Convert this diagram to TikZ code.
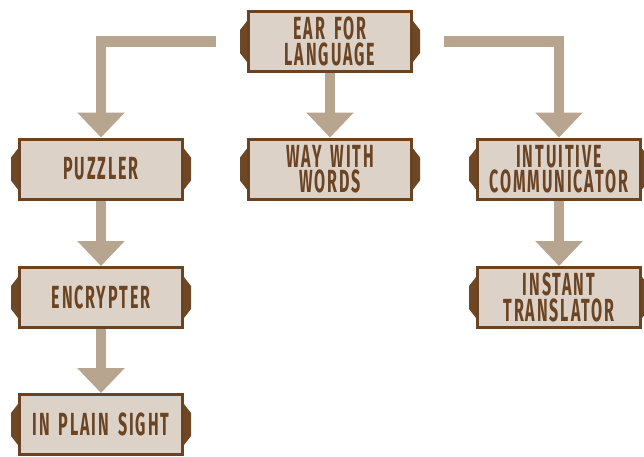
\documentclass[tikz,border=0pt]{standalone}
\usepackage{fontspec}
\usetikzlibrary{arrows.meta,calc}
\newfontfamily\signfont[FakeStretch=0.5,LetterSpace=6,WordSpace=1.6]{Fira Sans}
\definecolor{signfill}{HTML}{DDD2C7}
\definecolor{signedge}{HTML}{6A4322}
\definecolor{signtab}{HTML}{6E4724}
\definecolor{signtext}{HTML}{6B4423}
\definecolor{flow}{HTML}{B8A590}
\begin{document}
\begin{tikzpicture}[x=1pt,y=-1pt,
  sign/.style={draw=signedge, line width=3pt, fill=signfill,
    minimum width=163pt, minimum height=60pt, inner sep=0pt,
    align=center, text=signtext,
    font=\signfont\bfseries\fontsize{32}{25.5}\selectfont},
  flowarrow/.style={draw=flow, line width=10.5pt, line cap=butt, line join=miter,
    -{Triangle[width=46pt,length=25pt]}}]
\useasboundingbox (0,0) rectangle (644,456);

% signs
\node[sign] (ear)  at (330,41.5)  {EAR FOR\\LANGUAGE};
\node[sign] (puz)  at (101,169)   {PUZZLER};
\node[sign] (way)  at (330,169)   {WAY WITH\\WORDS};
\node[sign] (intu) at (559,169)   {INTUITIVE\\COMMUNICATOR};
\node[sign] (enc)  at (101,297.5) {ENCRYPTER};
\node[sign] (inst) at (559,297.5) {INSTANT\\TRANSLATOR};
\node[sign] (ips)  at (101,424.5) {IN PLAIN SIGHT};

% side tabs
\foreach \n in {ear,puz,way,intu,enc,inst,ips}{
  \fill[signtab] ($(\n.west)+(0,-20.5)$) -- ++(-7,9) -- ++(0,23) -- ++(7,9) -- cycle;
  \fill[signtab] ($(\n.east)+(0,-20.5)$) -- ++(7,9) -- ++(0,23) -- ++(-7,9) -- cycle;
}

% connectors
\coordinate (ear-l) at ($(ear.west)+(-31,0)$);
\coordinate (ear-r) at ($(ear.east)+(31,0)$);
\draw[flowarrow] (ear-l) -| (puz.north);
\draw[flowarrow] (ear-r) -| (intu.north);
\draw[flowarrow] (ear) -- (way);
\draw[flowarrow] (puz) -- (enc);
\draw[flowarrow] (enc) -- (ips);
\draw[flowarrow] (intu) -- (inst);
\end{tikzpicture}
\end{document}
